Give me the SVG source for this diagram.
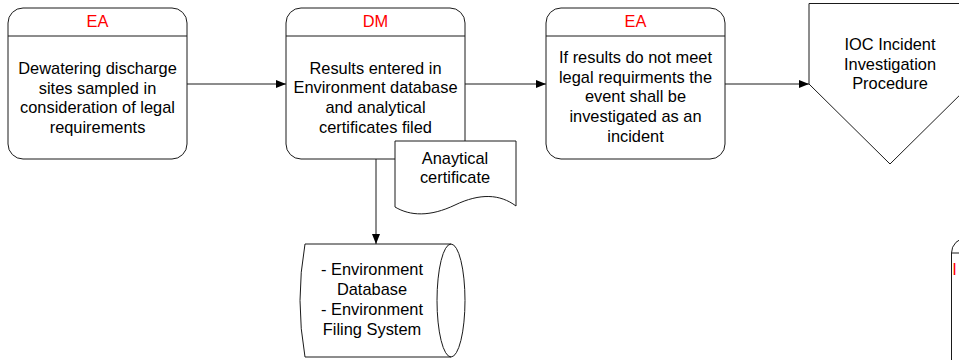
<svg xmlns="http://www.w3.org/2000/svg" width="959" height="360" viewBox="0 0 959 360">
<defs>
<style>
.s{fill:#fff;stroke:#1a1a1a;stroke-width:1}
.l{fill:none;stroke:#1a1a1a;stroke-width:1}
.t{font-family:"Liberation Sans",Arial,sans-serif;font-size:16.4px;fill:#000;text-anchor:middle}
.h{font-family:"Liberation Sans",Arial,sans-serif;font-size:16.4px;fill:#ff0000;text-anchor:middle}
</style>
<marker id="a" viewBox="0 0 10 10" refX="10" refY="5" markerWidth="10" markerHeight="10" markerUnits="userSpaceOnUse" orient="auto">
<path d="M0,1 L10,5 L0,9 Z" fill="#000"/>
</marker>
</defs>
<rect width="959" height="360" fill="#fff"/>
<g id="connectors">
<line class="l" x1="187" y1="84" x2="286" y2="84" marker-end="url(#a)"/>
<line class="l" x1="465" y1="84" x2="546" y2="84" marker-end="url(#a)"/>
<line class="l" x1="725" y1="84" x2="809" y2="84" marker-end="url(#a)"/>
<line class="l" x1="376" y1="159" x2="376" y2="244" marker-end="url(#a)"/>
</g>
<g id="n1">
<rect class="s" x="8" y="8" width="179" height="151" rx="15"/>
<line class="l" x1="8" y1="36" x2="187" y2="36"/>
<text class="h" x="97.5" y="27">EA</text>
<text class="t" x="97.5" y="74">Dewatering discharge</text>
<text class="t" x="97.5" y="93.5">sites sampled  in</text>
<text class="t" x="97.5" y="113">consideration of legal</text>
<text class="t" x="97.5" y="132.5">requirements</text>
</g>
<g id="n2">
<rect class="s" x="286" y="8" width="179" height="151" rx="15"/>
<line class="l" x1="286" y1="36" x2="465" y2="36"/>
<text class="h" x="375.5" y="27">DM</text>
<text class="t" x="375.5" y="73.5">Results entered in</text>
<text class="t" x="375.5" y="93">Environment database</text>
<text class="t" x="375.5" y="113">and analytical</text>
<text class="t" x="375.5" y="132.5">certificates filed</text>
</g>
<g id="n3">
<rect class="s" x="546" y="8" width="179" height="151" rx="15"/>
<line class="l" x1="546" y1="36" x2="725" y2="36"/>
<text class="h" x="635.5" y="27">EA</text>
<text class="t" x="635.5" y="63">If results do not meet</text>
<text class="t" x="635.5" y="82.5">legal requirments the</text>
<text class="t" x="635.5" y="102">event shall be</text>
<text class="t" x="635.5" y="122">investigated as an</text>
<text class="t" x="635.5" y="141.5">incident</text>
</g>
<g id="n4">
<path class="s" d="M809,3.5 H971 V84 L890,164 L809,84 Z"/>
<text class="t" x="890" y="50">IOC Incident</text>
<text class="t" x="890" y="70">Investigation</text>
<text class="t" x="890" y="89">Procedure</text>
</g>
<g id="n5">
<path class="s" d="M395,141 H516 V206 C500,194 480,193 455,205 C430,217 410,216 395,207 Z"/>
<text class="t" x="455" y="164">Anaytical</text>
<text class="t" x="455" y="183">certificate</text>
</g>
<g id="n6">
<path class="s" d="M305,244 H451 A14,56.5 0 0 1 451,357 H305 Q295,300.5 305,244 Z"/>
<path class="l" d="M451,244 A14,56.5 0 0 0 451,357"/>
<text class="t" x="372" y="275">- Environment</text>
<text class="t" x="372" y="295">Database</text>
<text class="t" x="372" y="315">- Environment</text>
<text class="t" x="372" y="335">Filing System</text>
</g>
<g id="n7">
<path class="s" d="M951.5,360 V253 A15,15 0 0 1 966.5,238 H980 V360"/>
<line class="l" x1="951.5" y1="253" x2="980" y2="253"/>
<text class="h" x="954.5" y="275" text-anchor="start">I</text>
</g>
</svg>
